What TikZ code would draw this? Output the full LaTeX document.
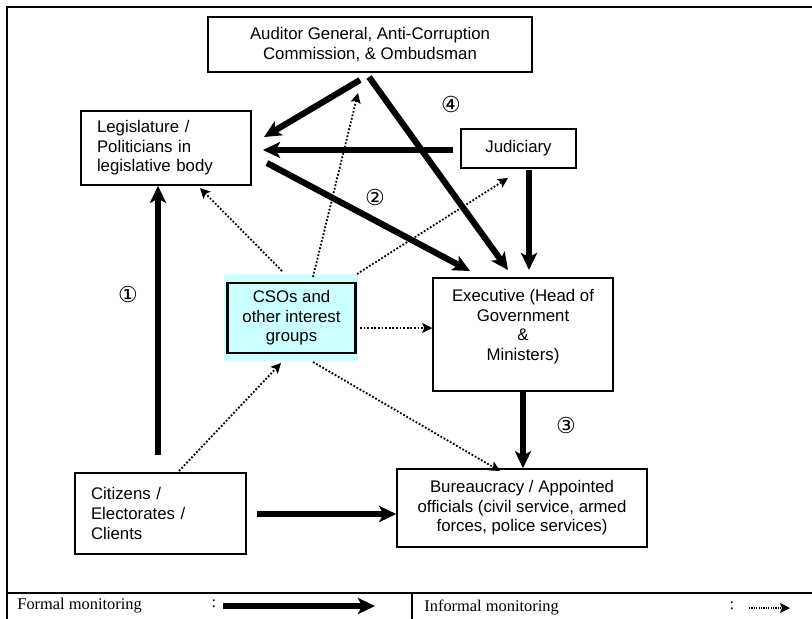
\documentclass[tikz,border=0pt]{standalone}
\usepackage{fontspec}
\setmainfont{Liberation Sans}
\newfontfamily\legserif{Liberation Serif}
\newfontfamily\circfont{DejaVu Sans}
\usetikzlibrary{arrows.meta}
\newcommand{\bxfont}{\fontsize{8.4pt}{9.8pt}\selectfont}
\newcommand{\lgfont}{\legserif\fontsize{8.2pt}{9.8pt}\selectfont}
\definecolor{csocyan}{HTML}{CCFFFF}
\begin{document}
\begin{tikzpicture}[x=0.5pt,y=-0.5pt,
  box/.style={draw, line width=0.75pt, inner sep=0pt, font=\bxfont, align=center},
  formal/.style={line width=3.1pt, -{Stealth[length=8.5pt,width=8pt,inset=2pt]}},
  informal/.style={line width=0.9pt, dash pattern=on 0.9pt off 0.9pt, -{Stealth[length=5pt,width=5pt,inset=1pt]}},
  framed/.style={line width=1pt},
  circnum/.style={font=\circfont\fontsize{11pt}{12pt}\selectfont, inner sep=0pt},
  legtext/.style={font=\lgfont, inner sep=0pt}]
\useasboundingbox (0,0) rectangle (812,618);
\clip (0,0) rectangle (812,618);
% frame and legend lines
\draw[framed] (6.5,7) rectangle (850,660);
\draw[framed] (6.5,593) -- (850,593);
\draw[framed] (412,593) -- (412,660);
% boxes
\node[box, minimum width=162pt, minimum height=27.5pt] (aud) at (370,44.5)
  {Auditor General, Anti-Corruption\\Commission, \& Ombudsman};
\node[box, minimum width=85pt, minimum height=37pt, text width=69pt, align=left] (leg) at (166,148)
  {Legislature /\\Politicians in\\legislative body};
\node[box, minimum width=57.5pt, minimum height=19.5pt] (jud) at (518.5,148.5) {Judiciary};
\node[fill=csocyan, inner sep=0pt, minimum width=67pt, minimum height=43.5pt] (csobg) at (291,317.5) {};
\node[box, line width=1.3pt, minimum width=64pt, minimum height=35pt] (cso) at (291.5,318)
  {CSOs and\\other interest\\groups};
\node[box, minimum width=90pt, minimum height=56.5pt] (exe) at (523,334.5) {};
\node[font=\bxfont, align=center, inner sep=0pt] (exet) at (523,326.5)
  {Executive (Head of\\Government\\\&\\Ministers)};
\node[box, minimum width=85.5pt, minimum height=40.5pt, text width=69.5pt, align=left] (cit) at (160.5,513.5)
  {Citizens /\\Electorates /\\Clients};
\node[box, minimum width=125pt, minimum height=39pt] (bur) at (522,508)
  {Bureaucracy / Appointed\\officials (civil service, armed\\forces, police services)};
% circled numbers
\node[circnum] (n1) at (128,294) {①};
\node[circnum] (n2) at (375,197) {②};
\node[circnum] (n3) at (566,425) {③};
\node[circnum] (n4) at (451,104) {④};
% connector end points
\coordinate (citTop) at (158,455);
\coordinate (audL) at (360,80);
\coordinate (legAudTip) at (264,137);
\coordinate (judL) at (453,150);
\coordinate (legJudTip) at (263,150);
\coordinate (legR) at (267,163);
\coordinate (exeLegTip) at (470,271);
\coordinate (audR) at (369,77);
\coordinate (exeAudTip) at (508,270);
\coordinate (judB) at (529,170);
\coordinate (exeJudTip) at (529,270);
\coordinate (citR) at (257,514);
% formal monitoring
\draw[formal] (citTop) -- (citTop |- leg.south);
\draw[formal] (audL) -- (legAudTip);
\draw[formal] (judL) -- (legJudTip);
\draw[formal] (legR) -- (exeLegTip);
\draw[formal] (audR) -- (exeAudTip);
\draw[formal] (judB) -- (exeJudTip);
\draw[formal] (exe.south) -- (bur.north -| exe.south);
\draw[formal] (citR) -- (citR -| bur.west);
% informal monitoring
\coordinate (csoA) at (282,271);
\coordinate (legTipI) at (200,188);
\coordinate (csoB) at (313,277);
\coordinate (audTipI) at (358,93);
\coordinate (csoC) at (357,274);
\coordinate (judTipI) at (508,178);
\coordinate (csoD) at (360,328);
\coordinate (csoE) at (313,362);
\coordinate (burTipI) at (500,471);
\coordinate (citT) at (179,471);
\coordinate (csoTipI) at (281,363);
\draw[informal] (csoA) -- (legTipI);
\draw[informal] (csoB) -- (audTipI);
\draw[informal] (csoC) -- (judTipI);
\draw[informal] (csoD) -- (csoD -| exe.west);
\draw[informal] (csoE) -- (burTipI);
\draw[informal] (citT) -- (csoTipI);
% legend
\node[legtext, anchor=base west] (lgf) at (17,609) {Formal monitoring};
\node[legtext] (lgfc) at (214,604) {:};
\coordinate (lgfA) at (223,606);
\coordinate (lgfB) at (375,606);
\draw[formal] (lgfA) -- (lgfB);
\node[legtext, anchor=base west] (lgi) at (424,611) {Informal monitoring};
\node[legtext] (lgic) at (732,606) {:};
\coordinate (lgiA) at (749,608);
\coordinate (lgiB) at (790,608);
\draw[informal, dash pattern=on 0.6pt off 0.6pt] (lgiA) -- (lgiB);
\end{tikzpicture}
\end{document}
